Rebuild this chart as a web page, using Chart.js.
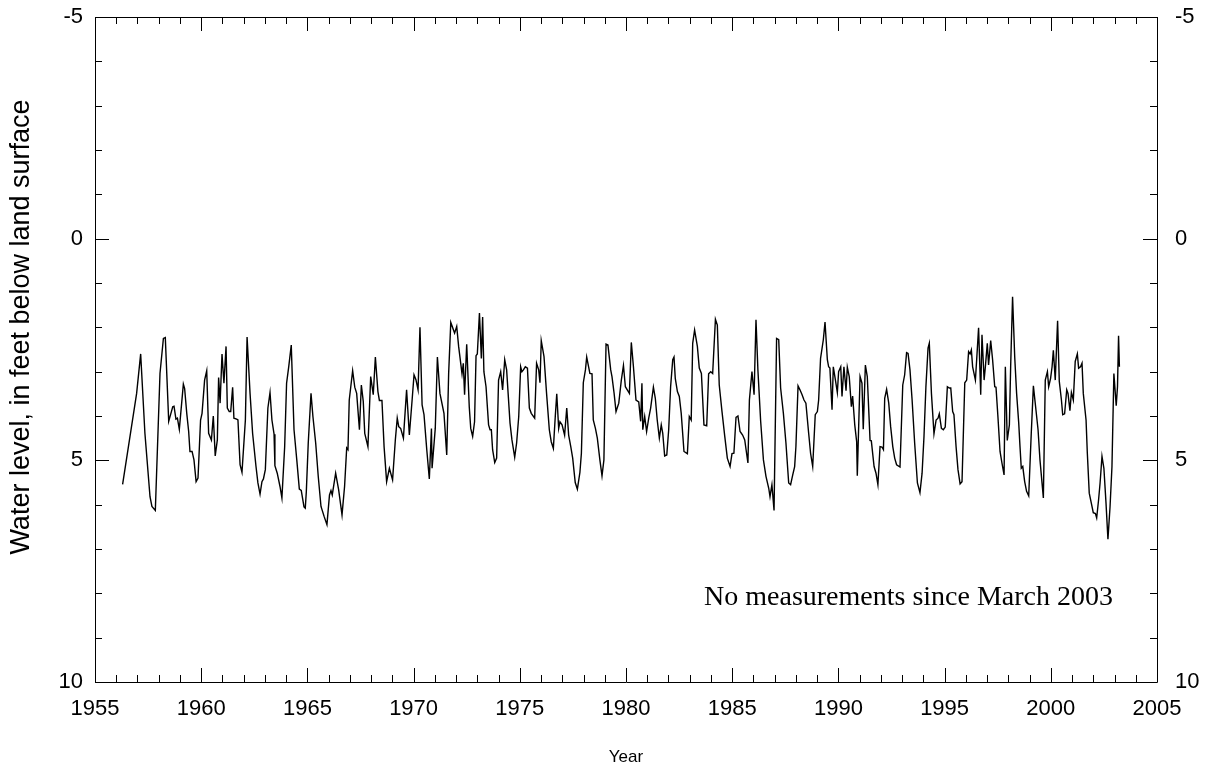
<!DOCTYPE html>
<html>
<head>
<meta charset="utf-8">
<script src="https://cdn.jsdelivr.net/npm/chart.js@4"></script>
<style>
  html, body { margin: 0; padding: 0; background: #fff; }
  #wrap { width: 1206px; height: 766px; }
</style>
</head>
<body>
<div id="wrap"><canvas id="wellChart" width="1206" height="766"></canvas></div>
<script>
// decimal year of each measurement
const years = [
  1956.30, 1956.96, 1957.15, 1957.35, 1957.59, 1957.68, 1957.84, 1958.06, 1958.22, 1958.31,
  1958.47, 1958.66, 1958.72, 1958.81, 1958.88, 1958.97, 1959.16, 1959.22, 1959.32, 1959.41,
  1959.47, 1959.57, 1959.66, 1959.76, 1959.85, 1959.97, 1960.04, 1960.16, 1960.26, 1960.35,
  1960.48, 1960.57, 1960.66, 1960.76, 1960.82,
  1960.89, 1960.98, 1961.07, 1961.17, 1961.23, 1961.32, 1961.39, 1961.48, 1961.54, 1961.67,
  1961.73, 1961.83, 1961.92, 1962.08, 1962.16, 1962.30, 1962.42, 1962.58, 1962.67, 1962.77,
  1962.86, 1962.93, 1963.02, 1963.14, 1963.24, 1963.33, 1963.43, 1963.47, 1963.58, 1963.71,
  1963.80, 1963.93, 1964.02, 1964.12, 1964.24, 1964.37, 1964.50, 1964.62, 1964.71, 1964.84,
  1964.90, 1964.95, 1965.04, 1965.17, 1965.26, 1965.39, 1965.51, 1965.64, 1965.79, 1965.92,
  1966.04, 1966.11, 1966.17, 1966.33, 1966.47, 1966.63, 1966.75, 1966.85, 1966.91, 1966.97,
  1967.13, 1967.23, 1967.32, 1967.45, 1967.54, 1967.63, 1967.70, 1967.85, 1967.98, 1968.10,
  1968.20, 1968.32, 1968.39, 1968.51, 1968.61, 1968.73, 1968.86, 1969.01, 1969.14, 1969.23,
  1969.30, 1969.39, 1969.52, 1969.67, 1969.80, 1969.93, 1970.02, 1970.11, 1970.21, 1970.30,
  1970.40, 1970.49, 1970.62, 1970.74, 1970.84, 1970.87, 1971.02, 1971.12, 1971.24, 1971.43,
  1971.56, 1971.65, 1971.75, 1971.93, 1972.03, 1972.12, 1972.28, 1972.34, 1972.40, 1972.50,
  1972.62, 1972.69, 1972.78, 1972.87, 1972.94, 1973.00, 1973.10,
  1973.19, 1973.25, 1973.31, 1973.41, 1973.53, 1973.60, 1973.66, 1973.72, 1973.82, 1973.91,
  1974.00, 1974.10, 1974.19, 1974.29, 1974.38, 1974.54, 1974.63, 1974.76, 1974.85, 1974.95,
  1975.04, 1975.10, 1975.17, 1975.26, 1975.36, 1975.45, 1975.54, 1975.70, 1975.79, 1975.89,
  1975.95, 1976.01, 1976.14, 1976.26, 1976.39, 1976.48, 1976.58, 1976.67, 1976.74, 1976.83,
  1976.89, 1976.99, 1977.11, 1977.21, 1977.30, 1977.40, 1977.49, 1977.61, 1977.71, 1977.83,
  1977.90, 1977.99, 1978.09, 1978.15, 1978.24, 1978.30, 1978.40, 1978.46, 1978.56, 1978.65,
  1978.77, 1978.87, 1978.96, 1979.06, 1979.15,
  1979.28, 1979.34, 1979.44, 1979.53, 1979.66, 1979.78, 1979.88, 1979.97, 1980.06, 1980.16,
  1980.25, 1980.35, 1980.47, 1980.60, 1980.69, 1980.75, 1980.79, 1980.88, 1980.97, 1981.07,
  1981.16, 1981.29, 1981.38, 1981.47, 1981.57, 1981.66, 1981.73, 1981.82, 1981.92, 1982.01,
  1982.10, 1982.20, 1982.26, 1982.32, 1982.42, 1982.51, 1982.60, 1982.73, 1982.89, 1982.98,
  1983.07, 1983.14, 1983.23, 1983.36, 1983.45, 1983.55, 1983.67, 1983.80, 1983.89, 1983.99,
  1984.08, 1984.21, 1984.30, 1984.39, 1984.52, 1984.65, 1984.77, 1984.90, 1984.99, 1985.08,
  1985.18, 1985.27,
  1985.37, 1985.49, 1985.59, 1985.74, 1985.81, 1985.93, 1986.03, 1986.12, 1986.21, 1986.34,
  1986.47, 1986.59, 1986.72, 1986.78, 1986.87, 1986.97, 1987.09, 1987.19, 1987.28, 1987.41,
  1987.53, 1987.66, 1987.75, 1987.85, 1987.94, 1988.00, 1988.10, 1988.19, 1988.29, 1988.38,
  1988.47, 1988.60, 1988.69, 1988.79, 1988.91, 1989.01, 1989.07, 1989.16, 1989.29, 1989.37,
  1989.48, 1989.54, 1989.60, 1989.70, 1989.76, 1989.86, 1989.95, 1990.01, 1990.11, 1990.17,
  1990.26, 1990.36, 1990.42, 1990.51, 1990.61, 1990.67, 1990.77, 1990.86, 1990.89, 1991.02,
  1991.11, 1991.17, 1991.27, 1991.36, 1991.49,
  1991.55, 1991.68, 1991.77, 1991.86, 1991.96, 1992.05, 1992.12, 1992.18, 1992.27, 1992.37,
  1992.46, 1992.56, 1992.65, 1992.74, 1992.90, 1993.03, 1993.12, 1993.21, 1993.28, 1993.37,
  1993.47, 1993.59, 1993.72, 1993.84, 1993.94, 1994.03, 1994.12, 1994.22, 1994.28, 1994.38,
  1994.50, 1994.60, 1994.69, 1994.75, 1994.85, 1994.94, 1995.03, 1995.13, 1995.22, 1995.29,
  1995.38, 1995.44, 1995.54, 1995.63, 1995.73, 1995.82, 1995.95, 1996.04, 1996.13, 1996.20,
  1996.26, 1996.32, 1996.45, 1996.51, 1996.60, 1996.70, 1996.76, 1996.86, 1996.92, 1997.01,
  1997.07, 1997.17, 1997.26, 1997.36, 1997.42, 1997.51, 1997.61,
  1997.70, 1997.80, 1997.86, 1997.95, 1998.05, 1998.11, 1998.20, 1998.30, 1998.39, 1998.49,
  1998.55, 1998.61, 1998.68, 1998.77, 1998.86, 1998.96, 1999.08, 1999.18, 1999.30, 1999.40,
  1999.49, 1999.65, 1999.74, 1999.84, 1999.90, 1999.99, 2000.06, 2000.12, 2000.21, 2000.32,
  2000.40, 2000.50, 2000.56, 2000.65, 2000.75, 2000.81, 2000.90, 2000.97, 2001.06, 2001.15,
  2001.25, 2001.31, 2001.40, 2001.47, 2001.53, 2001.66, 2001.72, 2001.81, 2001.91, 2002.00,
  2002.10, 2002.16, 2002.25, 2002.32, 2002.41, 2002.50, 2002.60, 2002.69, 2002.79, 2002.88,
  2002.97, 2003.08, 2003.14, 2003.19, 2003.23
];

// water level, feet below land surface
const levels = [
  5.54, 3.49, 2.60, 4.39, 5.82, 6.04, 6.13, 3.04, 2.25, 2.23,
  4.12, 3.79, 3.78, 4.07, 4.05, 4.30, 3.28, 3.38, 3.94, 4.35,
  4.80, 4.80, 4.99, 5.48, 5.40, 4.09, 3.94, 3.19, 2.98, 4.39,
  4.54, 4.00, 4.90, 4.54, 3.13,
  3.71, 2.60, 3.26, 2.43, 3.82, 3.90, 3.90, 3.35, 4.05, 4.07,
  4.09, 5.10, 5.27, 4.09, 2.22, 3.49, 4.39, 5.14, 5.51, 5.76,
  5.48, 5.42, 5.21, 3.82, 3.47, 4.09, 4.41, 5.12, 5.29, 5.59,
  5.85, 4.69, 3.26, 2.89, 2.40, 4.31, 4.99, 5.65, 5.68, 6.05,
  6.08, 5.70, 4.61, 3.49, 4.01, 4.61, 5.36, 6.04, 6.27, 6.45,
  5.78, 5.68, 5.78, 5.29, 5.66, 6.23, 5.59, 4.72, 4.76, 3.64,
  2.98, 3.35, 3.49, 4.31, 3.30, 3.67, 4.39, 4.69, 3.11, 3.52,
  2.67, 3.45, 3.65, 3.65, 4.69, 5.48, 5.18, 5.44, 4.54, 4.05,
  4.24, 4.28, 4.50, 3.41, 4.43, 3.64, 3.07, 3.18, 3.41, 2.00,
  3.75, 3.97, 4.76, 5.42, 4.28, 5.18, 4.28, 2.67, 3.49, 3.94,
  4.88, 3.04, 1.89, 2.13, 1.98, 2.43, 3.05, 2.81, 3.52, 2.38,
  3.79, 4.28, 4.46, 4.13, 2.64, 2.60, 1.68,
  2.70, 1.77, 3.00, 3.34, 4.20, 4.31, 4.31, 4.76, 5.05, 4.95,
  3.19, 3.00, 3.41, 2.73, 2.96, 4.16, 4.54, 4.93, 4.61, 4.01,
  2.89, 3.00, 2.96, 2.89, 2.92, 3.82, 3.94, 4.05, 2.81, 2.96,
  3.25, 2.30, 2.66, 3.49, 4.31, 4.58, 4.73, 4.01, 3.50, 4.28,
  4.13, 4.20, 4.43, 3.82, 4.43, 4.69, 4.95, 5.50, 5.65, 5.27,
  4.84, 3.25, 2.96, 2.67, 2.89, 3.04, 3.05, 4.09, 4.28, 4.50,
  4.99, 5.35, 4.99, 2.38, 2.40,
  2.96, 3.11, 3.49, 3.90, 3.71, 3.19, 2.86, 3.34, 3.41, 3.49,
  2.34, 2.89, 3.64, 3.68, 4.12, 3.26, 4.31, 4.01, 4.35, 4.05,
  3.82, 3.35, 3.60, 4.09, 4.50, 4.20, 4.39, 4.90, 4.88, 4.31,
  3.34, 2.73, 2.67, 3.15, 3.45, 3.56, 3.94, 4.80, 4.85, 4.01,
  4.09, 2.36, 2.06, 2.43, 2.92, 3.04, 4.20, 4.22, 3.05, 3.00,
  3.04, 1.82, 1.95, 3.30, 3.90, 4.46, 4.95, 5.14, 4.85, 4.84,
  4.03, 4.00,
  4.35, 4.43, 4.54, 5.06, 3.64, 3.00, 3.52, 1.83, 2.96, 4.12,
  4.99, 5.36, 5.63, 5.82, 5.55, 6.13, 2.25, 2.28, 3.37, 3.94,
  4.61, 5.51, 5.55, 5.33, 5.14, 4.69, 3.32, 3.41, 3.52, 3.64,
  3.71, 4.39, 4.84, 5.14, 3.97, 3.90, 3.64, 2.70, 2.28, 1.88,
  2.73, 2.89, 2.92, 3.86, 2.89, 3.19, 3.47, 3.00, 2.89, 3.56,
  2.89, 3.43, 2.90, 3.11, 3.79, 3.55, 4.20, 4.58, 5.35, 3.11,
  3.26, 4.30, 2.85, 3.11, 4.55,
  4.56, 5.14, 5.29, 5.55, 4.69, 4.70, 4.76, 3.60, 3.40, 3.71,
  4.24, 4.69, 4.95, 5.10, 5.15, 3.30, 3.07, 2.57, 2.59, 2.96,
  3.64, 4.61, 5.51, 5.73, 5.29, 4.46, 3.34, 2.47, 2.36, 3.49,
  4.40, 4.09, 4.05, 3.95, 4.28, 4.31, 4.25, 3.34, 3.37, 3.37,
  3.90, 3.97, 4.69, 5.21, 5.53, 5.48, 3.25, 3.19, 2.55, 2.60,
  2.51, 2.89, 3.19, 2.73, 2.01, 3.52, 2.17, 3.19, 2.89, 2.36,
  2.85, 2.30, 2.73, 3.34, 3.35, 4.01, 4.80,
  5.06, 5.33, 2.89, 4.55, 4.20, 2.89, 1.31, 2.66, 3.49, 4.16,
  4.69, 5.18, 5.14, 5.48, 5.70, 5.80, 4.39, 3.32, 3.86, 4.31,
  4.99, 5.85, 3.19, 3.00, 3.34, 3.15, 2.89, 2.52, 3.19, 1.85,
  3.22, 3.64, 3.97, 3.95, 3.41, 3.49, 3.88, 3.47, 3.64, 2.77,
  2.60, 2.92, 2.89, 2.81, 3.49, 4.09, 4.84, 5.74, 5.97, 6.18,
  6.20, 6.30, 5.89, 5.51, 4.91, 5.18, 5.97, 6.78, 6.04, 5.14,
  3.04, 3.77, 3.34, 2.19, 2.89
];

// axis ranges and tick steps
const xMin = 1955, xMax = 2005, xMajor = 5, xMinor = 1;
const yMin = -5, yMax = 10, yMajor = 5, yMinor = 1;

// leading spaces nudge the rotated title up a little, as in the original
const yTitle = '      Water level, in feet below land surface';
const xTitle = 'Year';
const note = 'No measurements since March 2003';
const notePos = { x: 2002.93, y: 8.1 };

const sans = '"Liberation Sans", Arial, Helvetica, sans-serif';

// ticks pointing inward on all four sides + frame + note
const innerTicks = {
  id: 'innerTicks',
  afterDraw(chart) {
    const ctx = chart.ctx;
    const a = chart.chartArea;
    const xs = chart.scales.x;
    const ys = chart.scales.y;
    ctx.save();
    ctx.strokeStyle = '#000';
    ctx.lineWidth = 1;
    ctx.beginPath();
    ctx.rect(Math.round(a.left) + 0.5, Math.round(a.top) + 0.5,
             Math.round(a.right - a.left), Math.round(a.bottom - a.top));
    ctx.stroke();

    ctx.beginPath();
    for (let v = xMin; v <= xMax; v += xMinor) {
      const len = (v % xMajor === 0) ? 14 : 7;
      const px = Math.round(xs.getPixelForValue(v)) + 0.5;
      ctx.moveTo(px, a.bottom); ctx.lineTo(px, a.bottom - len);
      ctx.moveTo(px, a.top); ctx.lineTo(px, a.top + len);
    }
    for (let v = yMin; v <= yMax; v += yMinor) {
      const len = (v % yMajor === 0) ? 14 : 7;
      const py = Math.round(ys.getPixelForValue(v)) + 0.5;
      ctx.moveTo(a.left, py); ctx.lineTo(a.left + len, py);
      ctx.moveTo(a.right, py); ctx.lineTo(a.right - len, py);
    }
    ctx.stroke();

    ctx.fillStyle = '#000';
    ctx.font = '28px "Liberation Serif", "Times New Roman", serif';
    ctx.textAlign = 'right';
    ctx.textBaseline = 'middle';
    ctx.fillText(note, xs.getPixelForValue(notePos.x), ys.getPixelForValue(notePos.y));
    ctx.restore();
  }
};

// the label overhang would push the plot down; the reference lets "-5" sit above it
function fixVertical(width) {
  return s => {
    s.width = width;
    s.paddingTop = 0;
    s.paddingBottom = 0;
  };
}

const points = years.map((yr, i) => ({ x: yr, y: levels[i] }));

const ctx = document.getElementById('wellChart').getContext('2d');
new Chart(ctx, {
  type: 'line',
  data: {
    datasets: [{
      data: points,
      borderColor: '#000',
      borderWidth: 1.4,
      pointRadius: 0,
      tension: 0,
      fill: false
    }]
  },
  options: {
    responsive: false,
    animation: false,
    layout: { padding: { top: 17, left: 0, right: 0, bottom: 0 } },
    plugins: { legend: { display: false }, tooltip: { enabled: false } },
    scales: {
      x: {
        type: 'linear',
        min: xMin, max: xMax,
        grid: { display: false, drawTicks: false },
        border: { display: false },
        ticks: { stepSize: xMajor, color: '#000', font: { family: sans, size: 22 }, padding: 14,
                 callback: v => String(v) },
        title: { display: true, text: xTitle, color: '#000', font: { family: sans, size: 17, lineHeight: 1 },
                 padding: { top: 0, bottom: 0 } },
        afterFit: s => { s.height = 84; s.paddingLeft = 0; s.paddingRight = 0; }
      },
      y: {
        type: 'linear', position: 'left', reverse: true,
        min: yMin, max: yMax,
        grid: { display: false, drawTicks: false },
        border: { display: false },
        ticks: { stepSize: yMajor, color: '#000', font: { family: sans, size: 22 }, padding: 12 },
        title: { display: true, text: yTitle, color: '#000', font: { family: sans, size: 27, lineHeight: 1 },
                 padding: { top: 8, bottom: 0 } },
        afterFit: fixVertical(95)
      },
      y2: {
        type: 'linear', position: 'right', reverse: true,
        min: yMin, max: yMax,
        grid: { display: false, drawTicks: false },
        border: { display: false },
        ticks: { stepSize: yMajor, color: '#000', font: { family: sans, size: 22 }, padding: 18 },
        afterFit: fixVertical(49)
      }
    }
  },
  plugins: [innerTicks]
});
</script>
</body>
</html>
